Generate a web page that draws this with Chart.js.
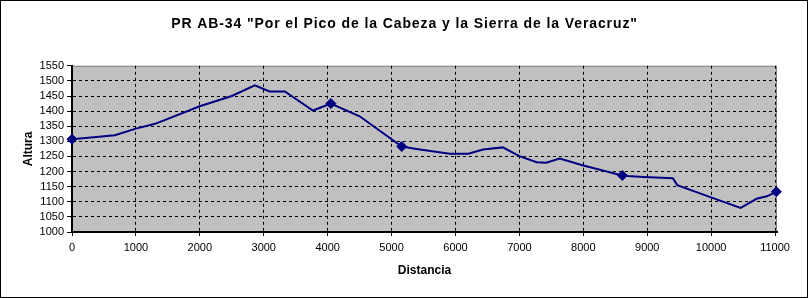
<!DOCTYPE html>
<html>
<head>
<meta charset="utf-8">
<script src="https://cdn.jsdelivr.net/npm/chart.js@4/dist/chart.umd.min.js"></script>
<style>
  body { margin: 0; background: #fff; }
  canvas { display: block; }
</style>
</head>
<body>
<canvas id="perfilCanvas" width="809" height="298"></canvas>
<script>
// perfil de la ruta (distancia en m, altura en m)
const distancia = [0, 670, 1000, 1300, 2000, 2500, 2860, 3090, 3330, 3770, 4050, 4500, 5160, 5390, 5910, 6200, 6430, 6740, 7000, 7270, 7420, 7630, 8000, 8610, 8700, 8940, 9400, 9470, 10030, 10460, 10710, 10870, 11020];
const altura = [1307, 1320, 1342, 1358, 1416, 1450, 1485, 1465, 1465, 1402, 1425, 1383, 1283, 1275, 1259, 1259, 1273, 1280, 1251, 1231, 1229, 1243, 1220, 1187, 1185, 1182, 1178, 1155, 1112, 1080, 1110, 1118, 1133];

// puntos marcados
const puntosDistancia = [0, 4050, 5160, 8610, 11020];
const puntosAltura = [1307, 1425, 1283, 1187, 1133];

const titulo = 'PR AB-34 "Por el Pico de la Cabeza y la Sierra de la Veracruz"';
const xTicks = [0, 1000, 2000, 3000, 4000, 5000, 6000, 7000, 8000, 9000, 10000, 11000];
const yTicks = [1000, 1050, 1100, 1150, 1200, 1250, 1300, 1350, 1400, 1450, 1500, 1550];
const xMax = 11030;

const fontFamily = "Arial, 'Liberation Sans', sans-serif";

const plotBackground = {
    id: "plotBackground",
    afterLayout(chart) {
        // titulo centrado en todo el lienzo y algo mas espaciado, como en Excel
        const t = chart.titleBlock;
        if (t && !t._spaced) {
            const draw = t.draw.bind(t);
            t.draw = (area) => {
                const c = chart.ctx;
                c.save();
                c.translate(chart.width / 2 - (t.left + t.right) / 2, 0);
                c.letterSpacing = "0.9px";
                draw(area);
                c.restore();
            };
            t._spaced = true;
        }
    },
    beforeDraw(chart) {
        const { ctx, chartArea: a, width, height } = chart;
        ctx.save();
        ctx.fillStyle = "#fff";
        ctx.fillRect(0, 0, width, height);
        ctx.strokeStyle = "#000";
        ctx.lineWidth = 1;
        ctx.strokeRect(0.5, 0.5, width - 2, height - 1);
        ctx.fillStyle = "#c0c0c0";
        ctx.fillRect(a.left, a.top, a.right - a.left, a.bottom - a.top);
        ctx.strokeStyle = "#808080";
        ctx.beginPath();
        ctx.moveTo(a.left, a.top + 0.5);
        ctx.lineTo(a.right - 0.5, a.top + 0.5);
        ctx.lineTo(a.right - 0.5, a.bottom);
        ctx.stroke();
        ctx.restore();
    },
};

const ctx = document.getElementById("perfilCanvas").getContext("2d");
const perfilChart = new Chart(ctx, {
    type: "scatter",
    data: {
        datasets: [
            {
                label: "Perfil",
                data: distancia.map((d, i) => ({ x: d, y: altura[i] })),
                showLine: true,
                borderColor: "#000080",
                borderWidth: 2,
                pointRadius: 0,
                tension: 0,
            },
            {
                label: "Puntos",
                data: puntosDistancia.map((d, i) => ({ x: d, y: puntosAltura[i] })),
                showLine: false,
                pointStyle: "rectRot",
                pointRadius: 5,
                backgroundColor: "#000080",
                borderColor: "#000080",
                borderWidth: 1,
                clip: false,
            },
        ],
    },
    options: {
        responsive: false,
        animation: false,
        devicePixelRatio: 1,
        layout: { padding: { left: 0, right: 32, top: 0, bottom: 0 } },
        plugins: {
            legend: { display: false },
            tooltip: { enabled: false },
            title: {
                display: true,
                text: titulo,
                color: "#000",
                font: { family: fontFamily, size: 14, weight: "bold" },
                padding: { top: 16, bottom: 33 },
            },
        },
        scales: {
            x: {
                type: "linear",
                min: xTicks[0],
                max: xMax,
                afterBuildTicks: (scale) => { scale.ticks = xTicks.map((v) => ({ value: v })); },
                afterFit: (scale) => { scale.height = 66; },
                ticks: {
                    color: "#000",
                    font: { family: fontFamily, size: 11 },
                    padding: 5,
                    maxRotation: 0,
                    autoSkip: false,
                    callback: (v) => String(v),
                },
                grid: {
                    color: (c) => (c.tick && c.tick.value === xTicks[0] ? "transparent" : "#000"),
                    lineWidth: 1,
                    tickColor: "#000",
                    tickLength: 4,
                },
                border: { display: true, color: "#000", width: 2, dash: [3, 3] },
                title: {
                    display: true,
                    text: "Distancia",
                    color: "#000",
                    font: { family: fontFamily, size: 12, weight: "bold" },
                    padding: { top: 0, bottom: 20 },
                },
            },
            y: {
                min: yTicks[0],
                max: yTicks[yTicks.length - 1],
                afterBuildTicks: (scale) => { scale.ticks = yTicks.map((v) => ({ value: v })); },
                afterFit: (scale) => { scale.width = 72; },
                ticks: {
                    autoSkip: false,
                    color: "#000",
                    font: { family: fontFamily, size: 11 },
                    padding: 3,
                    callback: (v) => String(v),
                },
                grid: {
                    color: (c) => (c.tick && (c.tick.value === yTicks[0] || c.tick.value === yTicks[yTicks.length - 1]) ? "transparent" : "#000"),
                    lineWidth: 1,
                    tickColor: "#000",
                    tickLength: 5,
                },
                border: { display: true, color: "#000", width: 2, dash: [3, 3] },
                title: {
                    display: true,
                    text: "Altura",
                    color: "#000",
                    font: { family: fontFamily, size: 12, weight: "bold" },
                    padding: { top: 21, bottom: 0 },
                },
            },
        },
    },
    plugins: [plotBackground],
});
</script>
</body>
</html>
